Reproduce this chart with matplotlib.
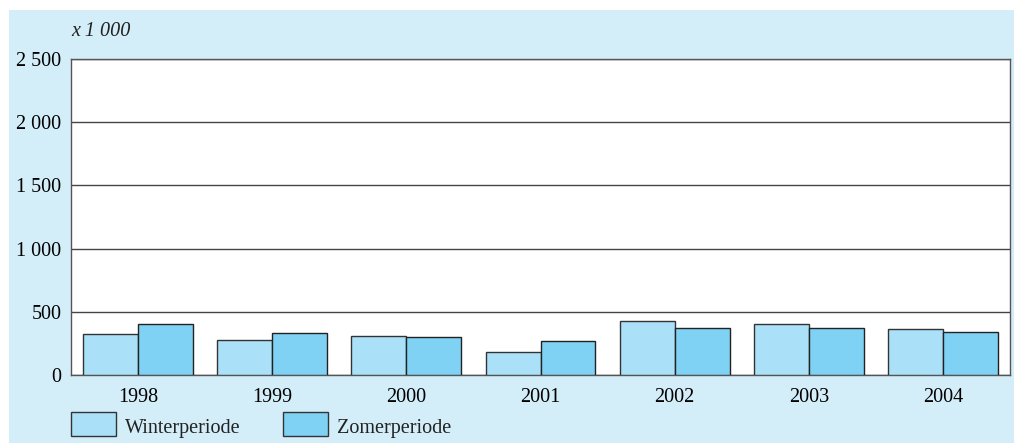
import matplotlib.pyplot as plt
from matplotlib.patches import Rectangle
import numpy as np

plt.rcParams['font.family'] = ['Liberation Serif', 'DejaVu Serif']

years = ['1998', '1999', '2000', '2001', '2002', '2003', '2004']
winter = [321, 279, 308, 179, 429, 400, 361]
zomer = [400, 329, 298, 271, 368, 368, 337]
yticks = [0, 500, 1000, 1500, 2000, 2500]
ylabels = ['0', '500', '1 000', '1 500', '2 000', '2 500']

c_bg = '#d4eef9'
c_winter = '#aae0f8'
c_zomer = '#7fd2f4'
fs = 14.5

fig = plt.figure(figsize=(10.14, 4.43), dpi=100)
fig.patch.set_facecolor('white')
fig.patches.append(Rectangle((9/1014, 0), 1, 1 - 10/443, transform=fig.transFigure,
                             facecolor=c_bg, edgecolor='none', zorder=-10))

ax = fig.add_axes([71/1014, 1 - 375/443, (1010 - 71)/1014, (375 - 59)/443])
ax.set_facecolor('white')

x = np.arange(len(years))
w = 0.41
ax.bar(x - w/2, winter, w, color=c_winter, edgecolor='#333333', linewidth=1, zorder=3)
ax.bar(x + w/2, zomer, w, color=c_zomer, edgecolor='#222222', linewidth=1, zorder=3)

ax.set_xlim(-0.5, len(years) - 0.5)
ax.set_ylim(0, 2500)
ax.set_yticks(yticks)
ax.set_yticklabels(ylabels, fontsize=fs)
ax.set_xticks(x)
ax.set_xticklabels(years, fontsize=fs)
ax.tick_params(length=0, pad=7)
ax.tick_params(axis='x', pad=9)
ax.grid(axis='y', color='#444444', linewidth=1, zorder=1)
for s in ax.spines.values():
    s.set_color('#555555')
    s.set_linewidth(1)

fig.text(71/1014, 1 - 32/443, 'x 1 000', fontsize=fs, style='italic', va='center', color='#222222')

# legend
items = [('Winterperiode', c_winter, 71), ('Zomerperiode', c_zomer, 283)]
for label, col, px in items:
    fig.patches.append(Rectangle((px/1014, 1 - 436/443), 45/1014, 24/443,
                                 transform=fig.transFigure, facecolor=col,
                                 edgecolor='#333333', linewidth=1))
    fig.text((px + 54)/1014, 1 - 428/443, label, fontsize=fs, va='center', color='#222222')

fig.savefig('out.png', dpi=100, facecolor=fig.get_facecolor())
